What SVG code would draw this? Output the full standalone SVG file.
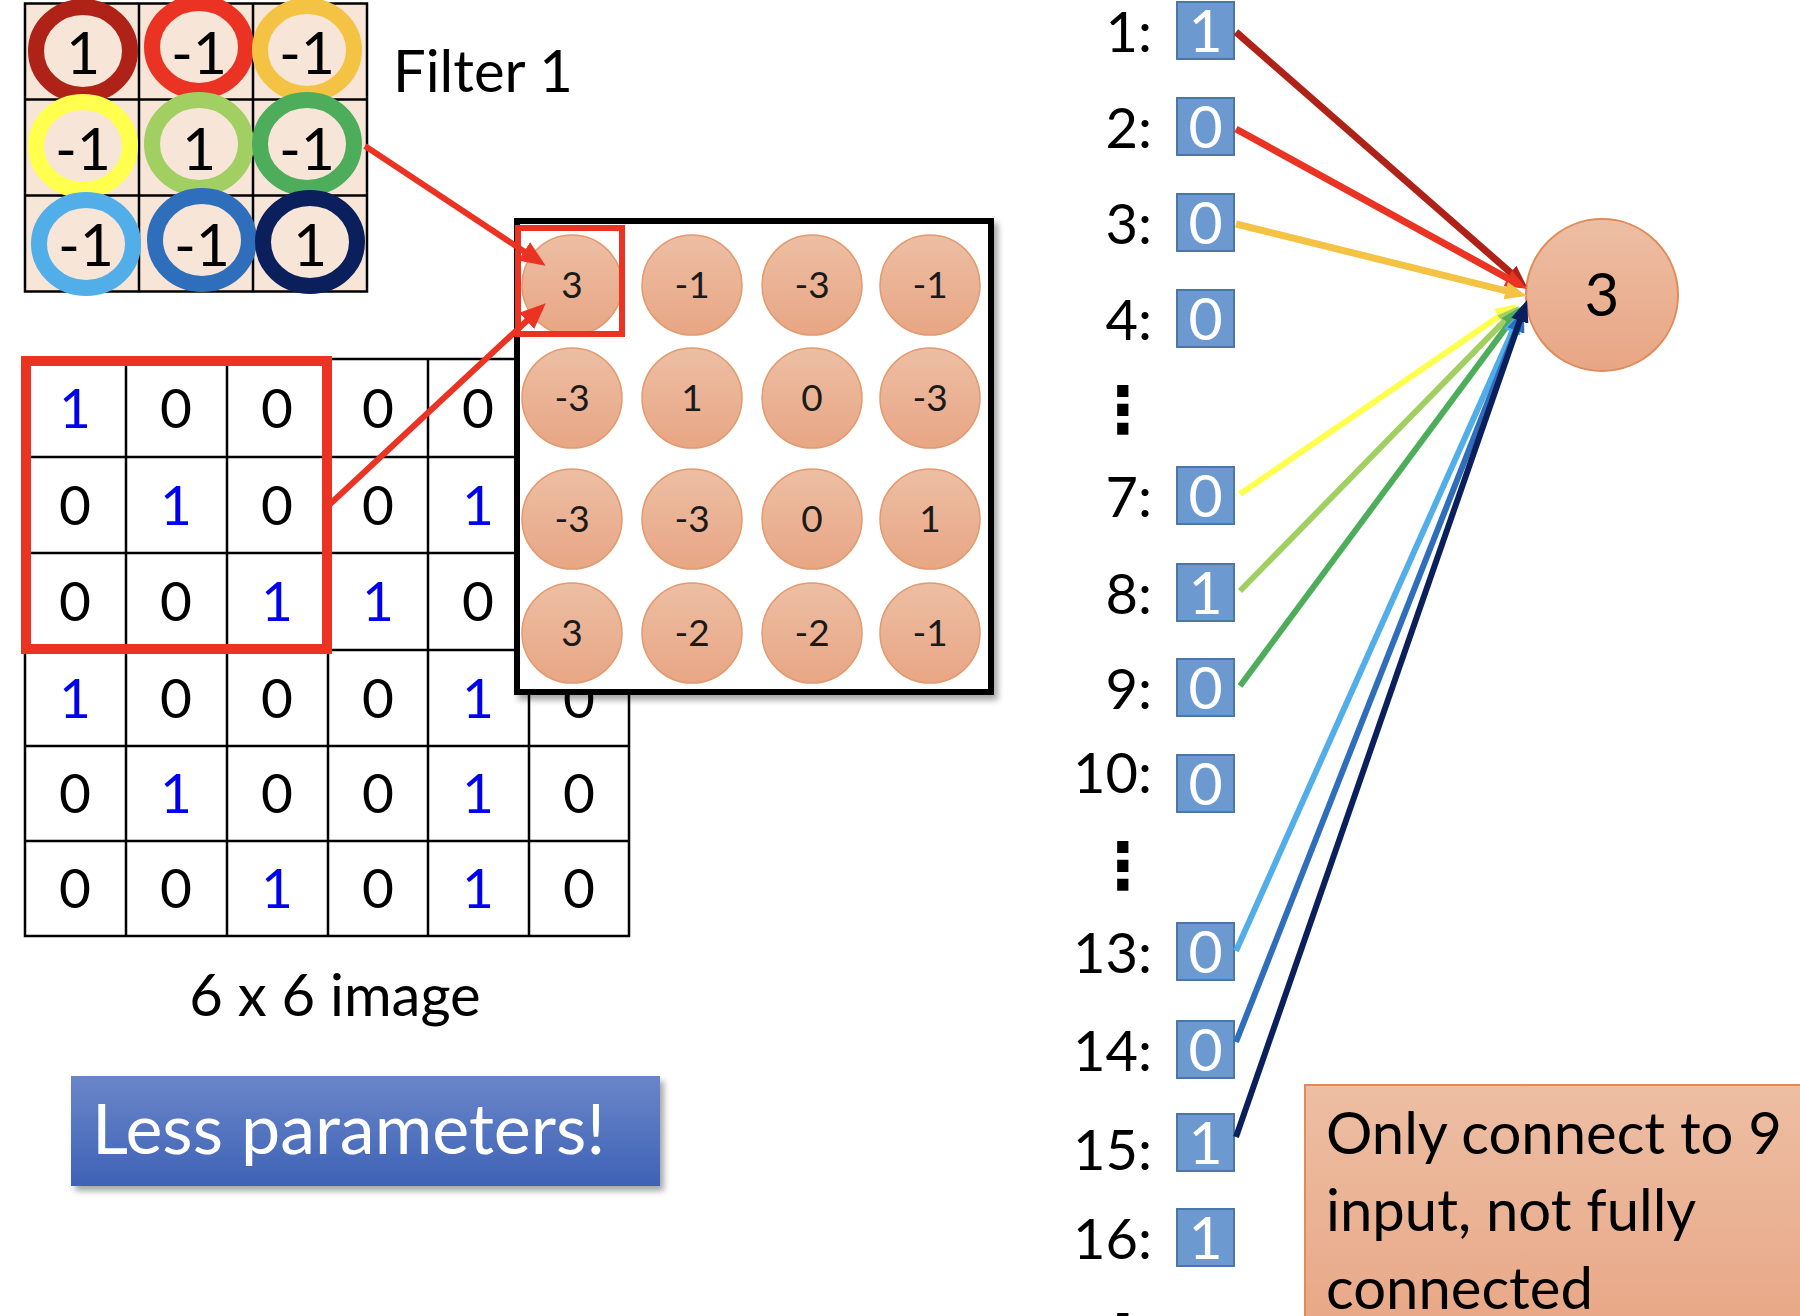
<svg xmlns="http://www.w3.org/2000/svg" width="1800" height="1316" viewBox="0 0 1800 1316">
<style>
.t{font-family:Lato,"Liberation Sans",sans-serif;}
.d55{font-size:55px;text-anchor:middle;}
.d58{font-size:59px;text-anchor:middle;}
.fm{font-size:37px;text-anchor:middle;fill:#1a1a1a;}
.lbl{font-size:56px;text-anchor:end;fill:#000;}
.bv{font-size:59px;text-anchor:middle;fill:#fff;}
.blue{fill:#0000F0;}
.blk{fill:#000;}
.grid{stroke:#000;stroke-width:2.5;fill:none;}
.ring{stroke-width:16;fill:none;}
.oc{fill:url(#og);stroke:#E29A6E;stroke-width:1.5;}
.box{fill:#6C9AD0;stroke:#4C76A8;stroke-width:2;}
.dots{font-family:"DejaVu Sans",sans-serif;font-weight:bold;font-size:64px;text-anchor:middle;}
</style>
<defs>
<linearGradient id="og" x1="0" y1="0" x2="0" y2="1"><stop offset="0" stop-color="#EDBEA4"/><stop offset="1" stop-color="#E8A684"/></linearGradient>
<linearGradient id="bg" x1="0" y1="0" x2="0" y2="1"><stop offset="0" stop-color="#6A86C9"/><stop offset="1" stop-color="#3E62B6"/></linearGradient>
<filter id="sh" x="-10%" y="-10%" width="130%" height="130%"><feGaussianBlur in="SourceAlpha" stdDeviation="3"/><feOffset dx="4" dy="5"/><feComponentTransfer><feFuncA type="linear" slope="0.35"/></feComponentTransfer><feMerge><feMergeNode/><feMergeNode in="SourceGraphic"/></feMerge></filter>
<marker id="mR" viewBox="0 0 26 22" refX="12" refY="11" markerWidth="26" markerHeight="22" markerUnits="userSpaceOnUse" orient="auto"><path d="M0,0 L26,11 L0,22 z" fill="#EA3323"/></marker>
<marker id="m1" viewBox="0 0 22 18" refX="10" refY="9" markerWidth="22" markerHeight="18" markerUnits="userSpaceOnUse" orient="auto"><path d="M0,0 L22,9 L0,18 z" fill="#AE2218"/></marker>
<marker id="m2" viewBox="0 0 22 18" refX="10" refY="9" markerWidth="22" markerHeight="18" markerUnits="userSpaceOnUse" orient="auto"><path d="M0,0 L22,9 L0,18 z" fill="#EA3323"/></marker>
<marker id="m3" viewBox="0 0 22 18" refX="10" refY="9" markerWidth="22" markerHeight="18" markerUnits="userSpaceOnUse" orient="auto"><path d="M0,0 L22,9 L0,18 z" fill="#F4C343"/></marker>
<marker id="m7" viewBox="0 0 22 18" refX="10" refY="9" markerWidth="22" markerHeight="18" markerUnits="userSpaceOnUse" orient="auto"><path d="M0,0 L22,9 L0,18 z" fill="#FFFF4D"/></marker>
<marker id="m8" viewBox="0 0 22 18" refX="10" refY="9" markerWidth="22" markerHeight="18" markerUnits="userSpaceOnUse" orient="auto"><path d="M0,0 L22,9 L0,18 z" fill="#A1CF62"/></marker>
<marker id="m9" viewBox="0 0 22 18" refX="10" refY="9" markerWidth="22" markerHeight="18" markerUnits="userSpaceOnUse" orient="auto"><path d="M0,0 L22,9 L0,18 z" fill="#4EAD5B"/></marker>
<marker id="m13" viewBox="0 0 22 18" refX="10" refY="9" markerWidth="22" markerHeight="18" markerUnits="userSpaceOnUse" orient="auto"><path d="M0,0 L22,9 L0,18 z" fill="#51AEE8"/></marker>
<marker id="m14" viewBox="0 0 22 18" refX="10" refY="9" markerWidth="22" markerHeight="18" markerUnits="userSpaceOnUse" orient="auto"><path d="M0,0 L22,9 L0,18 z" fill="#2F6EBA"/></marker>
<marker id="m15" viewBox="0 0 22 18" refX="10" refY="9" markerWidth="22" markerHeight="18" markerUnits="userSpaceOnUse" orient="auto"><path d="M0,0 L22,9 L0,18 z" fill="#0B1F5C"/></marker>
</defs>
<rect width="1800" height="1316" fill="#fff"/>

<g id="filter1" class="t">
<rect x="25" y="3.5" width="342" height="288" fill="#F7E5D8"/>
<path class="grid" d="M25,3.5H367V291.5H25Z M139,3.5V291.5 M253,3.5V291.5 M25,99.5H367 M25,195.5H367"/>
<ellipse class="ring" cx="83" cy="51" rx="47" ry="44" stroke="#AE2218"/>
<ellipse class="ring" cx="199" cy="47" rx="47" ry="44" stroke="#EA3323"/>
<ellipse class="ring" cx="307" cy="50" rx="47" ry="44" stroke="#F4C343"/>
<ellipse class="ring" cx="83" cy="146" rx="47" ry="44" stroke="#FFFF4D"/>
<ellipse class="ring" cx="199" cy="144" rx="47" ry="44" stroke="#A1CF62"/>
<ellipse class="ring" cx="307" cy="144" rx="47" ry="44" stroke="#4EAD5B"/>
<ellipse class="ring" cx="86" cy="244" rx="47" ry="44" stroke="#51AEE8"/>
<ellipse class="ring" cx="202" cy="240" rx="47" ry="44" stroke="#2F6EBA"/>
<ellipse class="ring" cx="310" cy="242" rx="47" ry="44" stroke="#0B1F5C"/>
<text class="d58 blk" x="83" y="74">1</text>
<text class="d58 blk" x="199" y="74">-1</text>
<text class="d58 blk" x="307" y="74">-1</text>
<text class="d58 blk" x="83" y="170">-1</text>
<text class="d58 blk" x="199" y="170">1</text>
<text class="d58 blk" x="307" y="170">-1</text>
<text class="d58 blk" x="86" y="266">-1</text>
<text class="d58 blk" x="202" y="266">-1</text>
<text class="d58 blk" x="310" y="266">1</text>
<text x="393" y="92" style="font-size:58px;fill:#000">Filter 1</text>
</g>

<g id="image6x6" class="t">
<path class="grid" d="M25,359H629V936H25Z M126,359V936 M227,359V936 M328,359V936 M428,359V936 M529,359V936 M25,457H629 M25,553H629 M25,650H629 M25,746H629 M25,841H629"/>
<text class="d55 blue" x="75" y="428">1</text><text class="d55 blk" x="176" y="428">0</text><text class="d55 blk" x="277" y="428">0</text><text class="d55 blk" x="378" y="428">0</text><text class="d55 blk" x="478" y="428">0</text>
<text class="d55 blk" x="75" y="525">0</text><text class="d55 blue" x="176" y="525">1</text><text class="d55 blk" x="277" y="525">0</text><text class="d55 blk" x="378" y="525">0</text><text class="d55 blue" x="478" y="525">1</text>
<text class="d55 blk" x="75" y="621">0</text><text class="d55 blk" x="176" y="621">0</text><text class="d55 blue" x="277" y="621">1</text><text class="d55 blue" x="378" y="621">1</text><text class="d55 blk" x="478" y="621">0</text>
<text class="d55 blue" x="75" y="718">1</text><text class="d55 blk" x="176" y="718">0</text><text class="d55 blk" x="277" y="718">0</text><text class="d55 blk" x="378" y="718">0</text><text class="d55 blue" x="478" y="718">1</text><text class="d55 blk" x="579" y="718">0</text>
<text class="d55 blk" x="75" y="813">0</text><text class="d55 blue" x="176" y="813">1</text><text class="d55 blk" x="277" y="813">0</text><text class="d55 blk" x="378" y="813">0</text><text class="d55 blue" x="478" y="813">1</text><text class="d55 blk" x="579" y="813">0</text>
<text class="d55 blk" x="75" y="908">0</text><text class="d55 blk" x="176" y="908">0</text><text class="d55 blue" x="277" y="908">1</text><text class="d55 blk" x="378" y="908">0</text><text class="d55 blue" x="478" y="908">1</text><text class="d55 blk" x="579" y="908">0</text>
<text x="335" y="1016" style="font-size:58px;fill:#000;text-anchor:middle">6 x 6 image</text>
</g>

<g id="window">
<rect x="26" y="361" width="301" height="288" fill="none" stroke="#EA3323" stroke-width="10"/>
</g>

<g id="featuremap" class="t">
<rect x="517" y="221" width="474" height="471" fill="#fff" stroke="#000" stroke-width="6" filter="url(#sh)"/>
<circle class="oc" cx="572" cy="285" r="50"/><circle class="oc" cx="692" cy="285" r="50"/><circle class="oc" cx="812" cy="285" r="50"/><circle class="oc" cx="930" cy="285" r="50"/>
<circle class="oc" cx="572" cy="398" r="50"/><circle class="oc" cx="692" cy="398" r="50"/><circle class="oc" cx="812" cy="398" r="50"/><circle class="oc" cx="930" cy="398" r="50"/>
<circle class="oc" cx="572" cy="519" r="50"/><circle class="oc" cx="692" cy="519" r="50"/><circle class="oc" cx="812" cy="519" r="50"/><circle class="oc" cx="930" cy="519" r="50"/>
<circle class="oc" cx="572" cy="633" r="50"/><circle class="oc" cx="692" cy="633" r="50"/><circle class="oc" cx="812" cy="633" r="50"/><circle class="oc" cx="930" cy="633" r="50"/>
<text class="fm" x="572" y="298">3</text><text class="fm" x="692" y="298">-1</text><text class="fm" x="812" y="298">-3</text><text class="fm" x="930" y="298">-1</text>
<text class="fm" x="572" y="411">-3</text><text class="fm" x="692" y="411">1</text><text class="fm" x="812" y="411">0</text><text class="fm" x="930" y="411">-3</text>
<text class="fm" x="572" y="532">-3</text><text class="fm" x="692" y="532">-3</text><text class="fm" x="812" y="532">0</text><text class="fm" x="930" y="532">1</text>
<text class="fm" x="572" y="646">3</text><text class="fm" x="692" y="646">-2</text><text class="fm" x="812" y="646">-2</text><text class="fm" x="930" y="646">-1</text>
<rect x="518" y="228" width="104" height="106" fill="none" stroke="#EA3323" stroke-width="6"/>
</g>

<g id="inputs" class="t">
<text class="lbl" x="1152" y="52">1:</text><rect class="box" x="1177" y="2" width="57" height="57"/><text class="bv" x="1205.5" y="52">1</text>
<text class="lbl" x="1152" y="148">2:</text><rect class="box" x="1177" y="98" width="57" height="57"/><text class="bv" x="1205.5" y="148">0</text>
<text class="lbl" x="1152" y="244">3:</text><rect class="box" x="1177" y="194" width="57" height="57"/><text class="bv" x="1205.5" y="244">0</text>
<text class="lbl" x="1152" y="340">4:</text><rect class="box" x="1177" y="290" width="57" height="57"/><text class="bv" x="1205.5" y="340">0</text>
<text class="dots" x="1123" y="432">⋮</text>
<text class="lbl" x="1152" y="517">7:</text><rect class="box" x="1177" y="467" width="57" height="57"/><text class="bv" x="1205.5" y="517">0</text>
<text class="lbl" x="1152" y="614">8:</text><rect class="box" x="1177" y="564" width="57" height="57"/><text class="bv" x="1205.5" y="614">1</text>
<text class="lbl" x="1152" y="709">9:</text><rect class="box" x="1177" y="659" width="57" height="57"/><text class="bv" x="1205.5" y="709">0</text>
<text class="lbl" x="1152" y="793">10:</text><rect class="box" x="1177" y="755" width="57" height="57"/><text class="bv" x="1205.5" y="805">0</text>
<text class="dots" x="1123" y="888">⋮</text>
<text class="lbl" x="1152" y="973">13:</text><rect class="box" x="1177" y="923" width="57" height="57"/><text class="bv" x="1205.5" y="973">0</text>
<text class="lbl" x="1152" y="1071">14:</text><rect class="box" x="1177" y="1021" width="57" height="57"/><text class="bv" x="1205.5" y="1071">0</text>
<text class="lbl" x="1152" y="1170">15:</text><rect class="box" x="1177" y="1114" width="57" height="57"/><text class="bv" x="1205.5" y="1164">1</text>
<text class="lbl" x="1152" y="1259">16:</text><rect class="box" x="1177" y="1209" width="57" height="57"/><text class="bv" x="1205.5" y="1259">1</text>
<text class="dots" x="1123" y="1360">⋮</text>
</g>

<g id="output" class="t">
<circle cx="1602" cy="295" r="76" fill="url(#og)" stroke="#E08B58" stroke-width="2"/>
<text x="1602" y="316" style="font-size:60px;text-anchor:middle;fill:#000">3</text>
</g>

<g id="connectors" fill="none">
<line x1="365" y1="146" x2="534" y2="258" stroke="#EA3323" stroke-width="6" marker-end="url(#mR)"/>
<line x1="329" y1="505" x2="535.5" y2="312.7" stroke="#EA3323" stroke-width="6" marker-end="url(#mR)"/>
<line x1="1236" y1="32" x2="1518" y2="279.1" stroke="#AE2218" stroke-width="7" marker-end="url(#m1)"/>
<line x1="1236" y1="129" x2="1516.5" y2="283.2" stroke="#EA3323" stroke-width="7" marker-end="url(#m2)"/>
<line x1="1236" y1="224" x2="1515.3" y2="293.1" stroke="#F4C343" stroke-width="7" marker-end="url(#m3)"/>
<line x1="1240" y1="494" x2="1507.1" y2="310.8" stroke="#FFFF4D" stroke-width="6" marker-end="url(#m7)"/>
<line x1="1240" y1="591" x2="1510.6" y2="314.6" stroke="#A1CF62" stroke-width="6" marker-end="url(#m8)"/>
<line x1="1240" y1="686" x2="1514.8" y2="315.6" stroke="#4EAD5B" stroke-width="6" marker-end="url(#m9)"/>
<line x1="1236" y1="951" x2="1516.1" y2="323" stroke="#51AEE8" stroke-width="6" marker-end="url(#m13)"/>
<line x1="1236" y1="1042" x2="1519.6" y2="321.2" stroke="#2F6EBA" stroke-width="6" marker-end="url(#m14)"/>
<line x1="1236" y1="1137" x2="1523.1" y2="311.3" stroke="#0B1F5C" stroke-width="6" marker-end="url(#m15)"/>
</g>

<g id="less-params" class="t">
<rect x="71" y="1076" width="589" height="110" fill="url(#bg)" filter="url(#sh)"/>
<text x="92" y="1154" style="font-size:70px;fill:#fff">Less parameters!</text>
</g>

<g id="note" class="t">
<rect x="1305" y="1085" width="520" height="260" fill="url(#og)" stroke="#E08B58" stroke-width="2"/>
<text style="font-size:58px;fill:#000"><tspan x="1326" y="1154">Only connect to 9</tspan><tspan x="1326" y="1231">input, not fully</tspan><tspan x="1326" y="1309">connected</tspan></text>
</g>
</svg>
